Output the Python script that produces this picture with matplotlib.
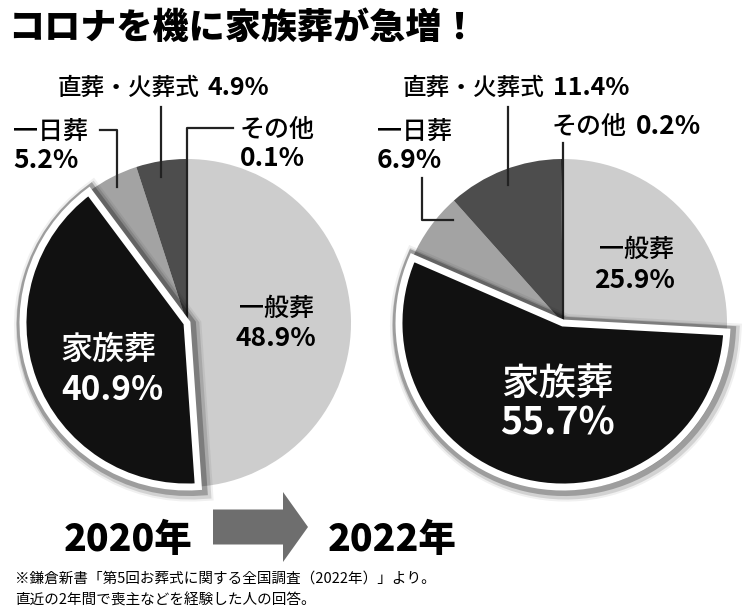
import matplotlib
matplotlib.use("Agg")
import matplotlib.pyplot as plt
from matplotlib import patheffects as pe
from matplotlib.patches import FancyArrow

plt.rcParams['font.family'] = ['Noto Sans CJK JP', 'DejaVu Sans']

# data
categories = ['一般葬', '家族葬', '一日葬', '直葬・火葬式', 'その他']
share_2020 = [48.9, 40.9, 5.2, 4.9, 0.1]
share_2022 = [25.9, 55.7, 6.9, 11.4, 0.2]
years = ['2020年', '2022年']

colors = ['#cdcdcd', '#111111', '#a3a3a3', '#4d4d4d', '#2a2a2a']

fig = plt.figure(figsize=(7.5, 6.16), dpi=100)
ax = fig.add_axes([0, 0, 1, 1])

shadow = [pe.Stroke(linewidth=17, foreground='black', alpha=0.06, offset=(2, -2)),
          pe.Stroke(linewidth=14, foreground='black', alpha=0.12, offset=(2, -2)),
          pe.Stroke(linewidth=11, foreground='black', alpha=0.25, offset=(1, -1)),
          pe.Normal()]


def draw_pie(vals, cx, cy):
    wedges, _ = ax.pie(vals, colors=colors, startangle=-90, counterclock=True,
                       center=(cx, cy), radius=164, frame=True,
                       explode=[0, 0.01, 0, 0, 0],
                       wedgeprops=dict(linewidth=0))
    w = wedges[1]
    w.set_edgecolor('white')
    w.set_linewidth(5)
    w.set_zorder(3)
    w.set_path_effects(shadow)
    return wedges


draw_pie(share_2020, 187, 323)
draw_pie(share_2022, 563, 323)

ax.set_xlim(0, 750)
ax.set_ylim(616, 0)
ax.set_aspect('equal')
ax.axis('off')

# leader lines
lc = dict(color='#222222', lw=1.6, zorder=2)
ax.plot([100, 117, 117], [130, 130, 187], **lc)
ax.plot([161, 161], [107, 177], **lc)
ax.plot([233, 187, 187], [128, 128, 323], **lc)
ax.plot([508, 508], [107, 185], **lc)
ax.plot([422, 422, 453], [178, 220, 220], **lc)
ax.plot([563, 563], [143, 323], **lc)

small = 17
mid = 19
cw = 'medium'

# 2020 labels
ax.text(58, 88, categories[3], fontsize=small, fontweight=cw, va='center', ha='left')
ax.text(208, 88, f'{share_2020[3]}%', fontsize=small + 1, fontweight='bold', va='center', ha='left')
ax.text(13, 132, categories[2], fontsize=mid - 1, fontweight=cw, va='center', ha='left')
ax.text(13, 160, f'{share_2020[2]}%', fontsize=mid, fontweight='bold', va='center', ha='left')
ax.text(240, 130, categories[4], fontsize=mid - 1, fontweight=cw, va='center', ha='left')
ax.text(240, 159, f'{share_2020[4]}%', fontsize=mid, fontweight='bold', va='center', ha='left')
ax.text(276, 309, categories[0], fontsize=mid - 1, fontweight=cw, va='center', ha='center', zorder=4)
ax.text(276, 339, f'{share_2020[0]}%', fontsize=mid, fontweight='bold', va='center', ha='center', zorder=4)
ax.text(108, 350, categories[1], fontsize=23, fontweight=cw, color='white', va='center', ha='center', zorder=4)
ax.text(112, 391, f'{share_2020[1]}%', fontsize=24, fontweight='bold', color='white', va='center', ha='center', zorder=4)

# 2022 labels
ax.text(403, 88, categories[3], fontsize=small, fontweight=cw, va='center', ha='left')
ax.text(553, 88, f'{share_2022[3]}%', fontsize=small + 1, fontweight='bold', va='center', ha='left')
ax.text(377, 132, categories[2], fontsize=mid - 1, fontweight=cw, va='center', ha='left')
ax.text(377, 161, f'{share_2022[2]}%', fontsize=mid, fontweight='bold', va='center', ha='left')
ax.text(552, 127, categories[4], fontsize=mid - 1, fontweight=cw, va='center', ha='left')
ax.text(636, 127, f'{share_2022[4]}%', fontsize=mid, fontweight='bold', va='center', ha='left')
ax.text(637, 250, categories[0], fontsize=mid - 1, fontweight=cw, va='center', ha='center', zorder=4)
ax.text(635, 281, f'{share_2022[0]}%', fontsize=mid, fontweight='bold', va='center', ha='center', zorder=4)
ax.text(557, 385, categories[1], fontsize=27, fontweight=cw, color='white', va='center', ha='center', zorder=4)
ax.text(557, 423, f'{share_2022[1]}%', fontsize=27, fontweight='bold', color='white', va='center', ha='center', zorder=4)

# title
ax.text(8, 28, 'コロナを機に家族葬が急増！', fontsize=26, fontweight='black', va='center', ha='left')

# years and arrow
ax.text(128, 540, years[0], fontsize=27, fontweight='black', va='center', ha='center')
ax.text(392, 540, years[1], fontsize=27, fontweight='black', va='center', ha='center')
ax.add_patch(FancyArrow(213, 527, 95, 0, width=35, head_width=70, head_length=25,
                        length_includes_head=True, color='#6e6e6e', lw=0))

# footnote
ax.text(15, 579, '※鎌倉新書「第5回お葬式に関する全国調査（2022年）」より。', fontsize=10.5, va='center', ha='left')
ax.text(15, 600, '直近の2年間で喪主などを経験した人の回答。', fontsize=10.5, va='center', ha='left')

fig.savefig('out.png', dpi=100, facecolor='white')
